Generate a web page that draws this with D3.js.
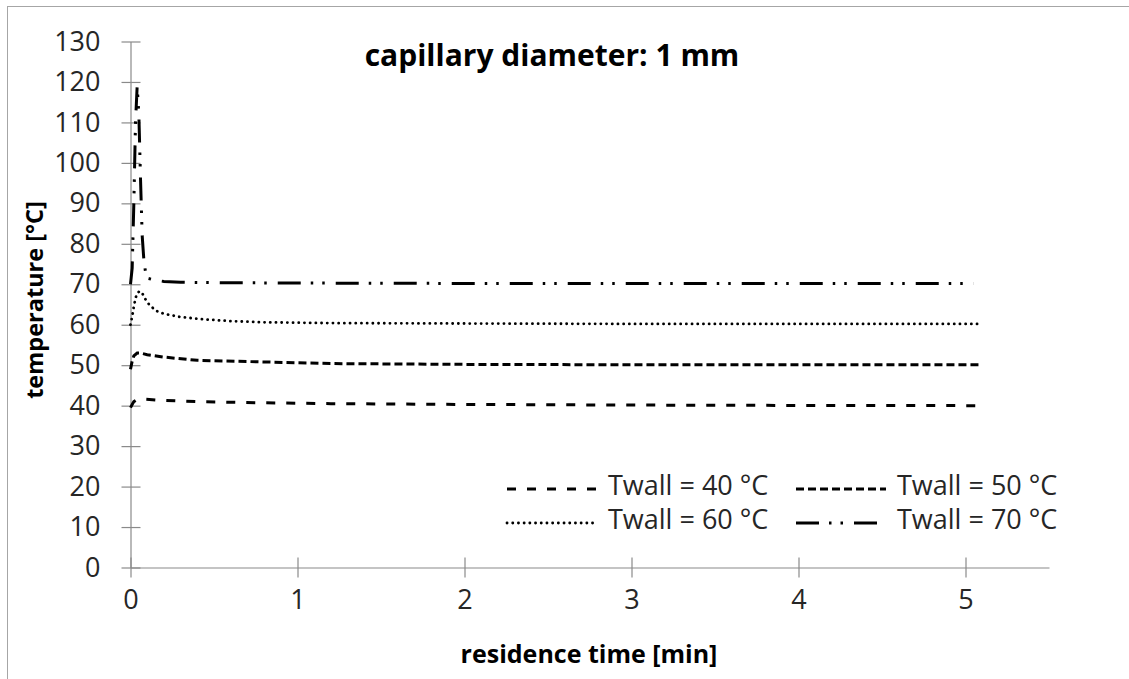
<!DOCTYPE html>
<html>
<head>
<meta charset="utf-8">
<script src="https://cdn.jsdelivr.net/npm/d3@7"></script>
<style>
  html, body { margin: 0; padding: 0; background: #fff; }
  svg { display: block; }
</style>
</head>
<body>
<svg id="chart" width="1129" height="679"></svg>
<script>
// ---- data ----
const xTicks = [0, 1, 2, 3, 4, 5];
const yTicks = [0, 10, 20, 30, 40, 50, 60, 70, 80, 90, 100, 110, 120, 130];

const t40 = [0, 0.01, 0.02, 0.04, 0.08, 0.15, 0.4, 0.8, 1.2, 2, 3, 4, 5.1];
const v40 = [39.5, 40.3, 41.0, 41.5, 41.6, 41.4, 41.0, 40.7, 40.5, 40.3, 40.15, 40.05, 40.0];

const t50 = [0, 0.01, 0.02, 0.04, 0.06, 0.1, 0.2, 0.4, 0.8, 1.2, 2, 3, 5.1];
const v50 = [49.0, 51.0, 52.3, 53.0, 53.0, 52.6, 52.0, 51.2, 50.8, 50.4, 50.2, 50.1, 50.1];

const t60 = [0, 0.01, 0.02, 0.03, 0.04, 0.055, 0.07, 0.1, 0.15, 0.2, 0.3, 0.45, 0.6, 0.8, 1.2, 2, 3, 5.1];
const v60 = [60.0, 62.0, 64.5, 66.5, 67.8, 68.3, 67.8, 65.5, 63.5, 62.7, 61.9, 61.3, 60.9, 60.6, 60.4, 60.3, 60.2, 60.2];

const t70 = [0, 0.01, 0.02, 0.03, 0.04, 0.05, 0.06, 0.07, 0.08, 0.09, 0.1, 0.15, 0.2, 0.3, 0.5, 1, 2, 3, 4, 5.05];
const v70 = [70.0, 74.0, 90.0, 110.0, 119.0, 112.0, 96.0, 82.0, 76.0, 73.0, 71.5, 71.0, 70.7, 70.5, 70.4, 70.3, 70.2, 70.2, 70.2, 70.2];

const seriesNames = ["Twall = 40 °C", "Twall = 50 °C", "Twall = 60 °C", "Twall = 70 °C"];

// ---- build ----
const series = [
  { name: seriesNames[0], t: t40, v: v40, dash: "9,11", cap: "butt", w: 3 },
  { name: seriesNames[1], t: t50, v: v50, dash: "8,4", cap: "butt", w: 3 },
  { name: seriesNames[2], t: t60, v: v60, dash: "0.1,5.6", cap: "round", w: 2.8 },
  { name: seriesNames[3], t: t70, v: v70, dash: "23,10,2.5,9,2.5,11", cap: "butt", w: 3 }
];

const svg = d3.select("#chart");
const axisColor = "#8a8a8a";
const font = "'Open Sans', 'DejaVu Sans', sans-serif";

// outer frame
svg.append("rect").attr("x", 7.5).attr("y", 6.5).attr("width", 1200).attr("height", 800)
  .attr("fill", "none").attr("stroke", "#a6a6a6").attr("stroke-width", 1);

const x = d3.scaleLinear().domain([0, 5.5]).range([130.5, 1049]);
const y = d3.scaleLinear().domain([0, 130]).range([567.5, 41.5]);

// y axis
const gy = svg.append("g").attr("transform", `translate(${x(0)},0)`)
  .call(d3.axisLeft(y).tickValues(yTicks).tickSize(0).tickPadding(30).tickFormat(d3.format("d")));
gy.select(".domain").attr("stroke", axisColor).attr("stroke-width", 1.2);
gy.selectAll(".tick text").attr("font-family", font).attr("font-size", 27).attr("fill", "#262626");
gy.selectAll(".tick").append("line").attr("x1", -9).attr("x2", 10).attr("stroke", axisColor).attr("stroke-width", 1.2);

// x axis
const gx = svg.append("g").attr("transform", `translate(0,${y(0)})`)
  .call(d3.axisBottom(x).tickValues(xTicks).tickSize(0).tickPadding(22).tickFormat(d3.format("d")));
gx.select(".domain").attr("stroke", axisColor).attr("stroke-width", 1.2);
gx.selectAll(".tick text").attr("font-family", font).attr("font-size", 27).attr("fill", "#262626");
gx.selectAll(".tick").append("line").attr("y1", -10).attr("y2", 10).attr("stroke", axisColor).attr("stroke-width", 1.2);

// lines
const line = d3.line().x(d => x(d[0])).y(d => y(d[1]));
series.forEach(s => {
  const pts = s.t.map((t, i) => [t, s.v[i]]);
  svg.append("path").datum(pts).attr("d", line)
    .attr("fill", "none").attr("stroke", "#000").attr("stroke-width", s.w)
    .attr("stroke-dasharray", s.dash).attr("stroke-linecap", s.cap);
});

// legend
const legPos = [[507, 489], [796, 489], [507, 523], [796, 523]];
series.forEach((s, i) => {
  const [lx, ly] = legPos[i];
  svg.append("line").attr("x1", lx).attr("x2", lx + 90).attr("y1", ly).attr("y2", ly)
    .attr("stroke", "#000").attr("stroke-width", s.w)
    .attr("stroke-dasharray", s.dash).attr("stroke-linecap", s.cap);
  svg.append("text").attr("x", lx + 101).attr("y", ly + 6)
    .attr("font-family", font).attr("font-size", 27).attr("fill", "#262626").text(s.name);
});

// titles
svg.append("text").attr("x", 552).attr("y", 66).attr("text-anchor", "middle")
  .attr("font-family", font).attr("font-weight", "bold").attr("font-size", 30).attr("fill", "#000")
  .text("capillary diameter: 1 mm");
svg.append("text").attr("x", 589).attr("y", 663).attr("text-anchor", "middle")
  .attr("font-family", font).attr("font-weight", "bold").attr("font-size", 25).attr("fill", "#000")
  .text("residence time [min]");
svg.append("text").attr("transform", "translate(43,300) rotate(-90)").attr("text-anchor", "middle")
  .attr("font-family", font).attr("font-weight", "bold").attr("font-size", 23.5).attr("fill", "#000")
  .text("temperature [°C]");
</script>
</body>
</html>
